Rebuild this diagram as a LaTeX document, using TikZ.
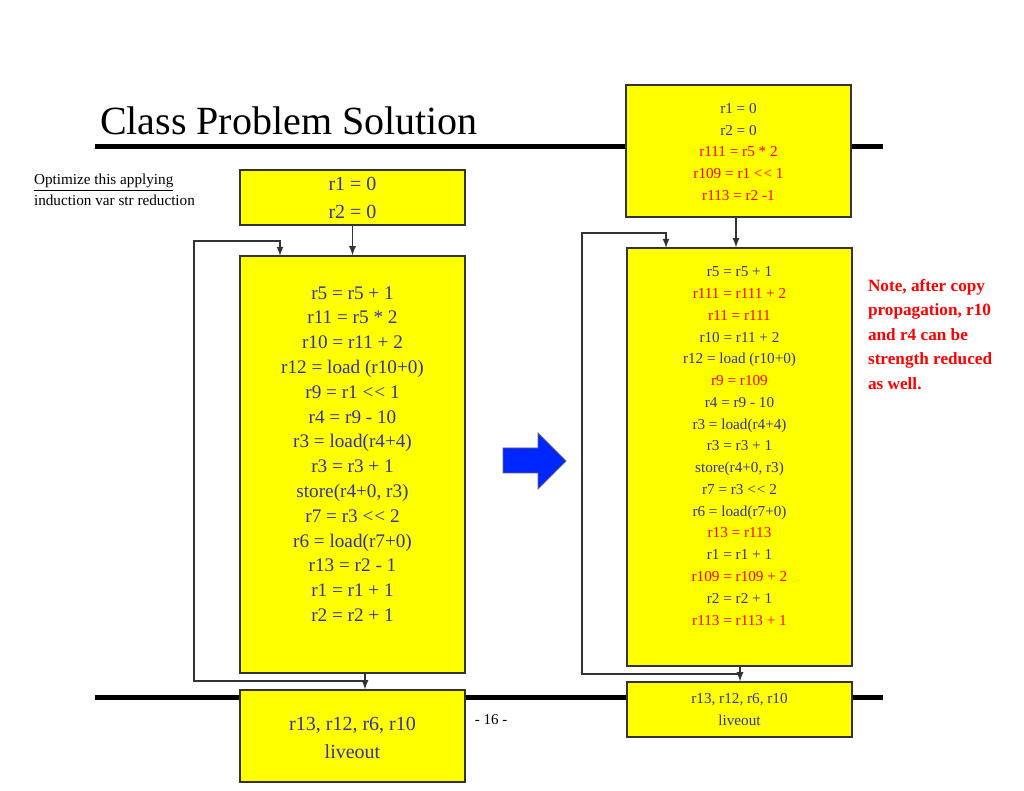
\documentclass[tikz,border=0pt]{standalone}
\usepackage{fontspec}
\setmainfont{Liberation Serif}
\usetikzlibrary{positioning}
\definecolor{codeblue}{HTML}{3333AA}
\definecolor{boxyellow}{HTML}{FFFF00}
\newcommand{\shl}{\textless\kern0.5pt\textless}
\tikzset{
  blk/.style={draw=black!80,fill=boxyellow,line width=0.6pt,inner sep=0pt},
  code/.style={text=codeblue,align=center,inner sep=0pt},
  flow/.style={draw=black!80,line width=0.6pt,-latex},
  wire/.style={draw=black!80,line width=0.6pt}
}
\begin{document}
\begin{tikzpicture}[x=0.5pt,y=-0.5pt]
\useasboundingbox (0,0) rectangle (1024,791);
% title and rules
\node[anchor=west,font=\fontsize{20}{24}\selectfont] (title) at (93,121) {Class Problem Solution};
\draw[line width=2.5pt] (95,147) -- (883,147);
\draw[line width=2.5pt] (95,697) -- (883,697);
\node[anchor=west,align=left,font=\fontsize{7.6}{10.5}\selectfont] (task) at (27,190) {\underline{Optimize this applying}\\induction var str reduction};
\node[font=\fontsize{7.5}{9}\selectfont] (page) at (491,720) {- 16 -};

%% left side
\node[blk,minimum width=112.5pt,minimum height=27.5pt] (lpre) at (352.5,197.5) {};
\node[code,font=\fontsize{10}{14}\selectfont] at (lpre) {r1 = 0\\r2 = 0};
\node[blk,minimum width=112.5pt,minimum height=208.5pt] (lloop) at (352.5,464.5) {};
\node[code,font=\fontsize{9.6}{12.4}\selectfont] (lcode) at (352.5,454) {r5 = r5 + 1\\r11 = r5 * 2\\r10 = r11 + 2\\r12 = load (r10+0)\\r9 = r1 \shl{} 1\\r4 = r9 - 10\\r3 = load(r4+4)\\r3 = r3 + 1\\store(r4+0, r3)\\r7 = r3 \shl{} 2\\r6 = load(r7+0)\\r13 = r2 - 1\\r1 = r1 + 1\\r2 = r2 + 1};
\node[blk,minimum width=112.5pt,minimum height=46pt] (lpost) at (352.5,736) {};
\node[code,font=\fontsize{10}{14}\selectfont] at (352.5,738) {r13, r12, r6, r10\\liveout};
\draw[flow] (lpre.south) -- (lloop.north);
\coordinate (lback) at (365,681);
\draw[flow] (lloop.south -| lback) -- (lpost.north -| lback);
\draw[flow] (lback) -- (194,681) -- (194,241) -- (280,241) -- (280,256);

%% arrow between
\fill[blue!85!cyan,draw=black!60,line width=0.4pt] (503,448) -- (538,448) -- (538,433) -- (566,461) -- (538,489) -- (538,473) -- (503,473) -- cycle;

%% right side
\node[blk,minimum width=112.5pt,minimum height=66pt] (rpre) at (738.5,151) {};
\node[code,font=\fontsize{7.6}{10.9}\selectfont] at (738.5,152) {r1 = 0\\r2 = 0\\\textcolor{red}{r111 = r5 * 2}\\\textcolor{red}{r109 = r1 \shl{} 1}\\\textcolor{red}{r113 = r2 -1}};
\node[blk,minimum width=112.5pt,minimum height=209pt] (rloop) at (739.5,457) {};
\node[code,font=\fontsize{7.6}{10.88}\selectfont] (rcode) at (739.5,446) {r5 = r5 + 1\\\textcolor{red}{r111 = r111 + 2}\\\textcolor{red}{r11 = r111}\\r10 = r11 + 2\\r12 = load (r10+0)\\\textcolor{red}{r9 = r109}\\r4 = r9 - 10\\r3 = load(r4+4)\\r3 = r3 + 1\\store(r4+0, r3)\\r7 = r3 \shl{} 2\\r6 = load(r7+0)\\\textcolor{red}{r13 = r113}\\r1 = r1 + 1\\\textcolor{red}{r109 = r109 + 2}\\r2 = r2 + 1\\\textcolor{red}{r113 = r113 + 1}};
\node[blk,minimum width=112.5pt,minimum height=27.5pt] (rpost) at (739.5,709.5) {};
\node[code,font=\fontsize{7.6}{10.9}\selectfont] at (rpost) {r13, r12, r6, r10\\liveout};
\draw[flow] (rpre.south -| 736,0) -- (rloop.north -| 736,0);
\coordinate (rback) at (740,674);
\draw[flow] (rloop.south -| rback) -- (rpost.north -| rback);
\draw[flow] (rback) -- (582,674) -- (582,233) -- (666,233) -- (666,248);

% note
\node[anchor=north west,align=left,text=red,font=\bfseries\fontsize{8.6}{12.3}\selectfont] (note) at (861,272) {Note, after copy\\propagation, r10\\and r4 can be\\strength reduced\\as well.};
\end{tikzpicture}
\end{document}
